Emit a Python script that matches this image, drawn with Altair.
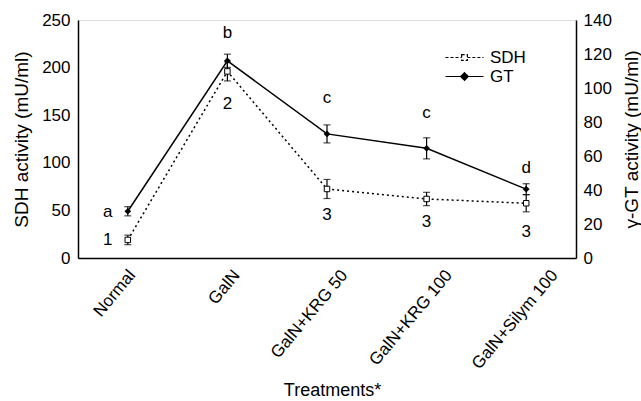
import altair as alt
import pandas as pd

# ---- data ----
categories = ["Normal", "GalN", "GalN+KRG 50", "GalN+KRG 100", "GalN+Silym 100"]
sdh_values = [19, 196, 72.5, 62, 57.5]
sdh_errors = [5, 10, 10, 7, 9]
gt_values = [27.5, 116, 73, 64.5, 40.5]
gt_errors = [2.7, 3.9, 5.3, 6.2, 3.2]
gt_letters = ["a", "b", "c", "c", "d"]
gt_letter_y = [48.5, 236, 168, 152, 94.5]      # in SDH-axis units
sdh_numbers = ["1", "2", "3", "3", "3"]
sdh_number_y = [19, 162, 45, 38, 27.5]         # in SDH-axis units
label_shift = [4, 9, 17, 22, 28]               # x-axis label offsets
legend_series = ["SDH", "GT"]

df = pd.DataFrame({
    "cat": categories,
    "sdh": sdh_values,
    "sdh_lo": [v - e for v, e in zip(sdh_values, sdh_errors)],
    "sdh_hi": [v + e for v, e in zip(sdh_values, sdh_errors)],
    "gt": gt_values,
    "gt_lo": [v - e for v, e in zip(gt_values, gt_errors)],
    "gt_hi": [v + e for v, e in zip(gt_values, gt_errors)],
    "letter": gt_letters,
    "letter_y": gt_letter_y,
    "num": sdh_numbers,
    "num_y": sdh_number_y,
})
legend_df = pd.DataFrame({"series": legend_series})

FONT = "Liberation Sans"

offset_cond = {
    "condition": [
        {"test": f"datum.value === '{c}'", "value": s}
        for c, s in zip(categories, label_shift)
    ],
    "value": 0,
}

x_axis = alt.Axis(
    title="Treatments*", labelAngle=-50, labelAlign="right", labelBaseline="middle",
    labelFontSize=17, labelPadding=14, ticks=False, domainColor="black", domainWidth=1.5,
    labelColor="black", titleColor="black", titleFontSize=18, titleFontWeight="normal",
    titleX=254, titleY=132, titleBaseline="middle", titleAlign="center",
    labelOffset=offset_cond, grid=False,
)
x_enc = alt.X("cat:N", sort=categories,
              scale=alt.Scale(type="point", padding=0.5), axis=x_axis)

left_axis = alt.Axis(
    title="SDH activity (mU/ml)", values=[0, 50, 100, 150, 200, 250],
    labelFontSize=17, titleFontSize=19, titleFontWeight="normal", ticks=False,
    grid=False, domainColor="black", domainWidth=1.5, labelColor="black",
    titleColor="black", labelPadding=8, titleX=-57, titleY=119,
    titleBaseline="middle", titleAlign="center", titleAngle=270,
)
right_axis = alt.Axis(
    title="γ-GT activity (mU/ml)", values=[0, 20, 40, 60, 80, 100, 120, 140],
    labelFontSize=17, titleFontSize=19, titleFontWeight="normal", ticks=False,
    grid=False, domainColor="black", domainWidth=1.5, labelColor="black",
    titleColor="black", labelPadding=7, titleX=55, titleY=119,
    titleBaseline="middle", titleAlign="center", titleAngle=270, orient="right",
)
ly = alt.Scale(domain=[0, 250], nice=False)
ry = alt.Scale(domain=[0, 140], nice=False)

base = alt.Chart(df)

# ---- SDH (left axis) ----
sdh_line = base.mark_line(color="black", strokeWidth=1.5, strokeDash=[2, 3]).encode(
    x=x_enc, y=alt.Y("sdh:Q", scale=ly, axis=left_axis))
sdh_rule = base.mark_rule(color="black", strokeWidth=1.2).encode(
    x=x_enc, y=alt.Y("sdh_lo:Q", scale=ly, axis=left_axis), y2="sdh_hi:Q")
sdh_cap_lo = base.mark_tick(color="black", thickness=1.2, size=7).encode(
    x=x_enc, y=alt.Y("sdh_lo:Q", scale=ly, axis=left_axis))
sdh_cap_hi = base.mark_tick(color="black", thickness=1.2, size=7).encode(
    x=x_enc, y=alt.Y("sdh_hi:Q", scale=ly, axis=left_axis))
sdh_pts = base.mark_point(shape="square", size=30, filled=True, fill="white",
                          stroke="black", strokeWidth=1, opacity=1).encode(
    x=x_enc, y=alt.Y("sdh:Q", scale=ly, axis=left_axis))
num_first = base.transform_filter(f"datum.cat === '{categories[0]}'").mark_text(
    font=FONT, fontSize=17, color="black", dx=-20).encode(
    x=x_enc, y=alt.Y("num_y:Q", scale=ly, axis=left_axis), text="num:N")
num_rest = base.transform_filter(f"datum.cat !== '{categories[0]}'").mark_text(
    font=FONT, fontSize=17, color="black").encode(
    x=x_enc, y=alt.Y("num_y:Q", scale=ly, axis=left_axis), text="num:N")
let_first = base.transform_filter(f"datum.cat === '{categories[0]}'").mark_text(
    font=FONT, fontSize=17, color="black", dx=-20).encode(
    x=x_enc, y=alt.Y("letter_y:Q", scale=ly, axis=left_axis), text="letter:N")
let_rest = base.transform_filter(f"datum.cat !== '{categories[0]}'").mark_text(
    font=FONT, fontSize=17, color="black").encode(
    x=x_enc, y=alt.Y("letter_y:Q", scale=ly, axis=left_axis), text="letter:N")

left_group = alt.layer(sdh_line, sdh_rule, sdh_cap_lo, sdh_cap_hi, sdh_pts,
                       num_first, num_rest, let_first, let_rest)

# ---- GT (right axis) ----
gt_line = base.mark_line(color="black", strokeWidth=1.5).encode(
    x=x_enc, y=alt.Y("gt:Q", scale=ry, axis=right_axis))
gt_rule = base.mark_rule(color="black", strokeWidth=1.2).encode(
    x=x_enc, y=alt.Y("gt_lo:Q", scale=ry, axis=right_axis), y2="gt_hi:Q")
gt_cap_lo = base.mark_tick(color="black", thickness=1.2, size=7).encode(
    x=x_enc, y=alt.Y("gt_lo:Q", scale=ry, axis=right_axis))
gt_cap_hi = base.mark_tick(color="black", thickness=1.2, size=7).encode(
    x=x_enc, y=alt.Y("gt_hi:Q", scale=ry, axis=right_axis))
gt_pts = base.mark_point(shape="diamond", size=45, filled=True, color="black",
                         opacity=1).encode(
    x=x_enc, y=alt.Y("gt:Q", scale=ry, axis=right_axis))

# legend symbols: line with marker in the middle (path spans x in [-2, 2])
sdh_sym = "M-2,0H-0.3M0.3,0H2M-0.3,-0.3H0.3V0.3H-0.3Z"
gt_sym = "M-2,0H-0.4M0.4,0H2M-0.4,0L0,-0.4L0.4,0L0,0.4Z"


def leg():
    return alt.Legend(title=None, orient="none", legendX=376, legendY=27,
                      padding=0, labelFontSize=17, labelFont=FONT,
                      labelColor="black", symbolSize=361, symbolStrokeWidth=1.2,
                      symbolOpacity=1, rowPadding=0, labelOffset=15)


legend_layer = alt.Chart(legend_df).mark_point(opacity=0, filled=False).encode(
    x=alt.value(0), y=alt.value(0),
    shape=alt.Shape("series:N", scale=alt.Scale(domain=legend_series,
                                                range=[sdh_sym, gt_sym]), legend=leg()),
    fill=alt.Fill("series:N", scale=alt.Scale(domain=legend_series,
                                              range=["white", "black"]), legend=leg()),
    stroke=alt.Stroke("series:N", scale=alt.Scale(domain=legend_series,
                                                  range=["black", "black"]), legend=leg()),
    strokeDash=alt.StrokeDash("series:N", scale=alt.Scale(domain=legend_series,
                                                          range=[[3, 2], [1, 0]]),
                              legend=leg()),
)

right_group = alt.layer(gt_line, gt_rule, gt_cap_lo, gt_cap_hi, gt_pts, legend_layer)

chart = alt.layer(left_group, right_group).resolve_scale(y="independent").properties(
    width=498, height=238,
    autosize=alt.AutoSizeParams(type="none"),
    padding={"left": 78, "top": 20, "right": 65, "bottom": 143},
).configure_view(stroke=None).configure(font=FONT, background="white")

chart.save("out.html", embed_options={"renderer": "svg", "actions": False})
